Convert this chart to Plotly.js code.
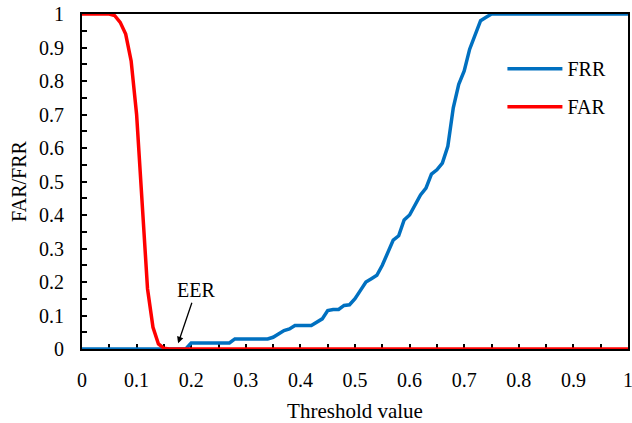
<!DOCTYPE html>
<html>
<head>
<meta charset="utf-8">
<script src="https://cdn.plot.ly/plotly-3.0.1.min.js"></script>
<style>html,body{margin:0;padding:0;background:#fff;}#chart{width:632px;height:423px;}</style>
</head>
<body>
<div id="chart"></div>
<script>
// Threshold values and error rates
const frrX = [0, 0.19, 0.20, 0.27, 0.28, 0.34, 0.35, 0.36, 0.37, 0.38, 0.39, 0.42, 0.43, 0.44, 0.45, 0.46, 0.47, 0.48, 0.49, 0.50, 0.51, 0.52, 0.53, 0.54, 0.55, 0.56, 0.57, 0.58, 0.59, 0.60, 0.61, 0.62, 0.63, 0.64, 0.65, 0.66, 0.67, 0.68, 0.69, 0.70, 0.71, 0.72, 0.73, 0.74, 0.75, 1.0];
const frrY = [0, 0, 0.018, 0.018, 0.03, 0.03, 0.035, 0.045, 0.055, 0.06, 0.07, 0.07, 0.08, 0.09, 0.115, 0.118, 0.118, 0.13, 0.132, 0.15, 0.175, 0.2, 0.21, 0.22, 0.25, 0.29, 0.325, 0.338, 0.385, 0.40, 0.43, 0.46, 0.48, 0.522, 0.535, 0.555, 0.605, 0.72, 0.79, 0.83, 0.895, 0.94, 0.98, 0.99, 1.0, 1.0];
const farX = [0, 0.05, 0.06, 0.07, 0.08, 0.09, 0.10, 0.11, 0.12, 0.13, 0.14, 0.15, 0.16, 1.0];
const farY = [1, 1, 0.995, 0.975, 0.94, 0.86, 0.70, 0.45, 0.18, 0.065, 0.015, 0.002, 0, 0];
const xTicks = [0, 0.1, 0.2, 0.3, 0.4, 0.5, 0.6, 0.7, 0.8, 0.9, 1];
const yTicks = [0, 0.1, 0.2, 0.3, 0.4, 0.5, 0.6, 0.7, 0.8, 0.9, 1];
const eerPoint = {x: 0.176, y: 0.017};

function F(size) { return {family: 'Liberation Serif', size: size || 20, color: '#000'}; }

const traces = [
  {x: frrX, y: frrY, type: 'scatter', mode: 'lines', name: 'FRR', legendgroup: 'a',
   line: {color: '#0070C0', width: 3.5}, cliponaxis: false},
  {x: farX, y: farY, type: 'scatter', mode: 'lines', name: 'FAR', legendgroup: 'b',
   line: {color: '#FF0000', width: 3.5}, cliponaxis: false}
];

function axis(ticks, titleText, standoff, titleSize) {
  return {
    range: [0, 1], showgrid: false, zeroline: false,
    showline: true, linecolor: '#000', linewidth: 2, mirror: true,
    ticks: 'inside', ticklen: 5, tickwidth: 2, tickcolor: '#000',
    minor: {dtick: 0.05, ticks: 'inside', ticklen: 5, tickwidth: 2, tickcolor: '#000'},
    tickfont: F(), layer: 'below traces', fixedrange: true,
    ticklabeloverflow: 'allow',
    tickmode: 'array', tickvals: ticks, ticktext: ticks.map(String),
    ticklabelstandoff: 12,
    title: {text: titleText, font: F(titleSize), standoff: standoff}
  };
}

const layout = {
  width: 632, height: 423,
  margin: {l: 82, r: 4, t: 14, b: 74},
  paper_bgcolor: '#fff', plot_bgcolor: '#fff',
  font: F(),
  xaxis: axis(xTicks, 'Threshold value', 13, 21),
  yaxis: axis(yTicks, 'FAR/FRR', 7, 20),
  showlegend: true,
  legend: {
    x: 0.77, y: 0.895, xanchor: 'left', yanchor: 'top',
    bgcolor: 'rgba(0,0,0,0)', borderwidth: 0, font: F(),
    traceorder: 'grouped', tracegroupgap: 9, itemwidth: 55
  },
  annotations: [{
    x: eerPoint.x, y: eerPoint.y, xref: 'x', yref: 'y',
    text: 'EER', showarrow: true, arrowhead: 2, arrowsize: 1, arrowwidth: 1.3,
    arrowcolor: '#000', ax: 18, ay: -53, font: F()
  }]
};

Plotly.newPlot('chart', traces, layout, {displayModeBar: false, staticPlot: true});
</script>
</body>
</html>
